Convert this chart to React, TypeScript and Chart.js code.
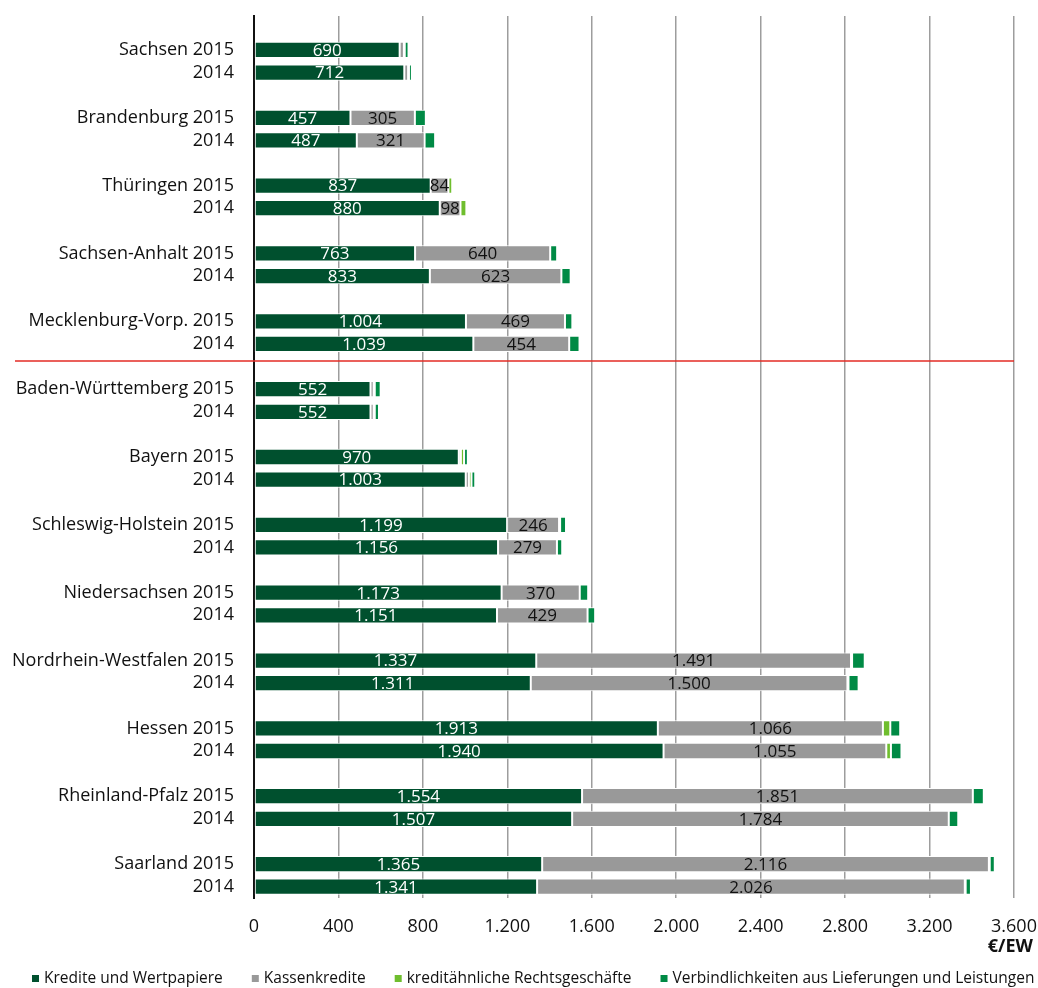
import React, { useEffect, useRef } from "react";
import { Chart, registerables } from "chart.js";

Chart.register(...registerables);

// ---- data ----
const states = [
  "Sachsen",
  "Brandenburg",
  "Thüringen",
  "Sachsen-Anhalt",
  "Mecklenburg-Vorp.",
  "Baden-Württemberg",
  "Bayern",
  "Schleswig-Holstein",
  "Niedersachsen",
  "Nordrhein-Westfalen",
  "Hessen",
  "Rheinland-Pfalz",
  "Saarland",
];
const years = ["2015", "2014"];

const kredite2015 = [690, 457, 837, 763, 1004, 552, 970, 1199, 1173, 1337, 1913, 1554, 1365];
const kredite2014 = [712, 487, 880, 833, 1039, 552, 1003, 1156, 1151, 1311, 1940, 1507, 1341];
const kassen2015 = [20, 305, 84, 640, 469, 15, 10, 246, 370, 1491, 1066, 1851, 2116];
const kassen2014 = [18, 321, 98, 623, 454, 15, 15, 279, 429, 1500, 1055, 1784, 2026];
const kreditaehnlich2015 = [4, 0, 18, 0, 0, 5, 15, 5, 0, 5, 35, 0, 4];
const kreditaehnlich2014 = [4, 0, 28, 0, 0, 5, 12, 0, 0, 5, 22, 0, 4];
const verbindl2015 = [18, 52, 0, 33, 35, 28, 18, 28, 40, 60, 47, 52, 24];
const verbindl2014 = [14, 50, 0, 44, 49, 20, 18, 25, 36, 48, 50, 45, 25];

const seriesNames = [
  "Kredite und Wertpapiere",
  "Kassenkredite",
  "kreditähnliche Rechtsgeschäfte",
  "Verbindlichkeiten aus Lieferungen und Leistungen",
];
const seriesColors = ["#00502e", "#999999", "#6fbe2e", "#008a45"];

const xTicks = [0, 400, 800, 1200, 1600, 2000, 2400, 2800, 3200, 3600];
const unitLabel = "€/EW";
const separatorAfterState = "Mecklenburg-Vorp.";

const FONT = "'Open Sans', 'Noto Sans', 'DejaVu Sans', sans-serif";

function fmt(v: number): string {
  return String(Math.round(v)).replace(/\B(?=(\d{3})+(?!\d))/g, ".");
}

// build rows: blank, [state 2015, 2014, blank]...
const rowLabels: string[] = [""];
const rowData: (number | null)[][] = [[null], [null], [null], [null]];
states.forEach((s, i) => {
  const pairs = [
    [kredite2015[i], kassen2015[i], kreditaehnlich2015[i], verbindl2015[i]],
    [kredite2014[i], kassen2014[i], kreditaehnlich2014[i], verbindl2014[i]],
  ];
  rowLabels.push(`${s} ${years[0]}`);
  rowLabels.push(years[1]);
  pairs.forEach((p) => p.forEach((v, k) => rowData[k].push(v)));
  if (i < states.length - 1) {
    rowLabels.push("");
    rowData.forEach((d) => d.push(null));
  }
});

export default function App() {
  const ref = useRef<HTMLCanvasElement | null>(null);

  useEffect(() => {
    document.body.style.margin = "0";
    const canvas = ref.current;
    if (!canvas) return;

    const valueLabels = {
      id: "valueLabels",
      afterDatasetsDraw(chart: any) {
        const ctx = chart.ctx;
        ctx.save();
        ctx.font = `17px ${FONT}`;
        ctx.textAlign = "center";
        ctx.textBaseline = "middle";
        [0, 1].forEach((di) => {
          const meta = chart.getDatasetMeta(di);
          meta.data.forEach((el: any, idx: number) => {
            const v = chart.data.datasets[di].data[idx];
            if (v == null || v < 50) return;
            const cx = (el.x + el.base) / 2;
            ctx.fillStyle = di === 0 ? "#ffffff" : "#111111";
            ctx.fillText(fmt(v), cx, el.y + 1);
          });
        });
        ctx.restore();
      },
    };

    const separator = {
      id: "separator",
      afterDatasetsDraw(chart: any) {
        const y = chart.scales.y;
        const idx = rowLabels.indexOf(`${separatorAfterState} ${years[0]}`) + 2;
        const step = y.getPixelForValue(1) - y.getPixelForValue(0);
        const py = y.getPixelForValue(idx) - 0.25 * step;
        const ctx = chart.ctx;
        ctx.save();
        ctx.strokeStyle = "#e32b24";
        ctx.lineWidth = 1.5;
        ctx.beginPath();
        ctx.moveTo(15, py);
        ctx.lineTo(chart.chartArea.right, py);
        ctx.stroke();
        ctx.restore();
      },
    };

    const legendAndUnit = {
      id: "legendAndUnit",
      afterDraw(chart: any) {
        const ctx = chart.ctx;
        const area = chart.chartArea;
        ctx.save();
        // unit
        ctx.font = `bold 18px ${FONT}`;
        ctx.fillStyle = "#111111";
        ctx.textAlign = "right";
        ctx.textBaseline = "middle";
        ctx.fillText(unitLabel, area.right + 19, area.bottom + 49);
        // legend
        ctx.font = `15.5px ${FONT}`;
        ctx.textAlign = "left";
        let x = 32;
        const ly = area.bottom + 81;
        chart.data.datasets.forEach((ds: any) => {
          ctx.fillStyle = ds.backgroundColor;
          ctx.fillRect(x, ly - 4, 7, 7);
          x += 12;
          ctx.fillStyle = "#111111";
          ctx.fillText(ds.label, x, ly);
          x += ctx.measureText(ds.label).width + 29;
        });
        ctx.restore();
      },
    };

    const chart = new Chart(canvas, {
      type: "bar",
      data: {
        labels: rowLabels,
        datasets: seriesNames.map((name, k) => ({
          label: name,
          data: rowData[k],
          backgroundColor: seriesColors[k],
          borderColor: "#ffffff",
          borderWidth: 1,
          borderSkipped: false,
          categoryPercentage: 1,
          barPercentage: 0.72,
        })),
      },
      options: {
        indexAxis: "y",
        responsive: false,
        animation: false,
        devicePixelRatio: 1,
        layout: { padding: { top: 16, right: 24, bottom: 45, left: 0 } },
        plugins: {
          legend: { display: false },
          tooltip: { enabled: false },
        },
        scales: {
          x: {
            stacked: true,
            min: 0,
            max: 3600,
            afterBuildTicks(scale: any) {
              scale.ticks = xTicks.map((v) => ({ value: v }));
            },
            afterFit(scale: any) {
              scale.height = 45;
              scale.paddingLeft = 0;
              scale.paddingRight = 0;
            },
            grid: {
              color: "#9d9d9d",
              lineWidth: 1.5,
              drawTicks: false,
            },
            border: { display: false },
            ticks: {
              padding: 18,
              color: "#111111",
              font: { family: FONT, size: 18 },
              maxRotation: 0,
              callback: (v: any) => fmt(Number(v)),
            },
          },
          y: {
            stacked: true,
            afterFit(scale: any) {
              scale.width = 254;
              scale.paddingTop = 0;
              scale.paddingBottom = 0;
            },
            grid: { display: false, drawTicks: false },
            border: { display: true, color: "#111111", width: 2 },
            ticks: {
              autoSkip: false,
              padding: 20,
              color: "#111111",
              font: { family: FONT, size: 18 },
            },
          },
        },
      },
      plugins: [valueLabels, separator, legendAndUnit],
    });

    return () => chart.destroy();
  }, []);

  return (
    <div style={{ position: "absolute", left: 0, top: 0, width: 1038, height: 988, background: "#ffffff" }}>
      <canvas ref={ref} width={1038} height={988} />
    </div>
  );
}
